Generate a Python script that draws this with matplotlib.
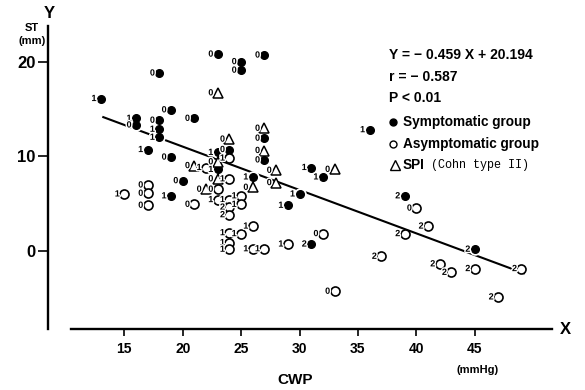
import matplotlib
matplotlib.use('Agg')
import matplotlib.pyplot as plt
import matplotlib.patheffects as pe

plt.rcParams['font.family'] = ['Liberation Sans', 'DejaVu Sans']

# Symptomatic group (filled circles): CWP, ST, digit tag
sym_x = [13, 16, 16, 18, 18, 18, 18, 19, 21, 17, 19, 20, 19, 23, 25, 25, 27, 27, 27,
         24, 23, 23, 26, 31, 32, 30, 29, 31, 36, 39, 45]
sym_y = [16.1, 14.0, 13.3, 18.8, 13.8, 12.85, 12.0, 14.9, 14.0, 10.7, 9.9, 7.4, 5.8,
         20.8, 20.0, 19.1, 20.7, 11.9, 9.6, 10.7, 10.4, 8.6, 7.8, 8.8, 7.8, 6.0, 4.8,
         0.7, 12.8, 5.8, 0.15]
sym_tag = ['1', '1', '0', '0', '0', '1', '1', '0', '0', '1', '0', '0', '1', '0', '0', '0',
           '0', '0', '0', '0', '1', '1', '1', '1', '1', '1', '1', '2', '1', '2', '2']

# Asymptomatic group (open circles)
asy_x = [24, 22, 24, 23, 17, 17, 15, 17, 21, 23, 24, 25, 25, 24, 24, 26, 24, 25, 24, 24,
         26, 27, 29, 32, 33, 40, 41, 39, 37, 42, 43, 45, 49, 47]
asy_y = [9.8, 8.8, 7.6, 6.5, 6.95, 6.07, 6.0, 4.8, 4.9, 5.4, 5.4, 5.8, 4.9, 4.6, 3.8,
         2.6, 1.9, 1.8, 0.85, 0.15, 0.2, 0.2, 0.7, 1.8, -4.3, 4.5, 2.6, 1.8, -0.6, -1.4,
         -2.3, -1.9, -1.9, -4.9]
asy_tag = ['1', '1', '1', '0', '0', '0', '1', '0', '0', '1', '1', '1', '1', '2', '2', '1',
           '1', '1', '1', '1', '1', '1', '1', '0', '0', '0', '2', '2', '2', '2', '2', '2',
           '2', '2']

# SPI (Cohn type II) (open triangles)
spi_x = [23, 27, 24, 27, 23, 21, 23, 28, 33, 26, 28, 22]
spi_y = [16.7, 12.95, 11.8, 10.6, 9.4, 9.0, 7.6, 8.5, 8.6, 6.7, 7.2, 6.5]
spi_tag = ['0'] * 12

# regression line Y = -0.459X + 20.194
slope = -0.459
intercept = 20.194
fit_x = [13.2, 49.2]

xticks = [15, 20, 25, 30, 35, 40, 45]
yticks = [0, 10, 20]

fig = plt.figure(figsize=(5.85, 3.9), dpi=100)
ax = fig.add_axes([48 / 585, 1 - 329.3 / 390, 512 / 585, 303.3 / 390])
ax.set_xlim(8.467, 52.30)
ax.set_ylim(-8.32, 23.78)

for s in ['top', 'right']:
    ax.spines[s].set_visible(False)
ax.spines['left'].set_linewidth(1.7)
ax.spines['bottom'].set_linewidth(1.7)
ax.spines['bottom'].set_bounds(10.4, 51.6)

ax.set_xticks(xticks)
ax.set_yticks(yticks)
ax.tick_params(axis='y', direction='out', length=7, width=1.2, pad=2, labelsize=12)
ax.tick_params(axis='x', direction='out', length=5, width=1.2, pad=4, labelsize=10)
for lab in ax.get_xticklabels() + ax.get_yticklabels():
    lab.set_fontweight('bold')

ax.plot(fit_x, [slope * v + intercept for v in fit_x], color='black', lw=1.5, zorder=1)

# white halos so the line breaks at each mark
ax.plot(sym_x, sym_y, 'o', ms=8, color='white', zorder=2)
ax.plot(sym_x, sym_y, 'o', ms=5.5, color='black', zorder=3)
ax.plot(asy_x, asy_y, 'o', ms=6.5, mfc='white', mec='black', mew=1.2, zorder=3)
ax.plot(spi_x, spi_y, '^', ms=6.5, mfc='white', mec='black', mew=1.1, zorder=3)

halo = [pe.withStroke(linewidth=2, foreground='white')]
for xs, ys, tags in [(sym_x, sym_y, sym_tag), (asy_x, asy_y, asy_tag), (spi_x, spi_y, spi_tag)]:
    for x, y, t in zip(xs, ys, tags):
        ax.annotate(t, (x, y), xytext=(-5, 0), textcoords='offset points', ha='center',
                    va='center', fontsize=6.5, fontweight='bold', zorder=4, path_effects=halo)

# equation and legend block
fig.text(389 / 585, 1 - 55 / 390, 'Y = − 0.459 X + 20.194', fontsize=10, fontweight='bold', va='center')
fig.text(389 / 585, 1 - 77 / 390, 'r = − 0.587', fontsize=10, fontweight='bold', va='center')
fig.text(389 / 585, 1 - 98 / 390, 'P < 0.01', fontsize=10, fontweight='bold', va='center')

fig.lines.append(plt.Line2D([393 / 585], [1 - 121.7 / 390], marker='o', ms=5, color='black',
                            transform=fig.transFigure))
fig.lines.append(plt.Line2D([393 / 585], [1 - 144.3 / 390], marker='o', ms=5, mfc='white',
                            mec='black', mew=1, transform=fig.transFigure))
fig.lines.append(plt.Line2D([395 / 585], [1 - 165 / 390], marker='^', ms=6.5, mfc='white',
                            mec='black', mew=1, transform=fig.transFigure))
fig.text(403 / 585, 1 - 121.7 / 390, 'Symptomatic group', fontsize=9.8, fontweight='bold', va='center')
fig.text(403 / 585, 1 - 144.3 / 390, 'Asymptomatic group', fontsize=9.8, fontweight='bold', va='center')
fig.text(403 / 585, 1 - 165 / 390, 'SPI', fontsize=9.8, fontweight='bold', va='center')
fig.text(431 / 585, 1 - 165 / 390, '(Cohn type II)', fontsize=8.5, family='Liberation Mono',
         va='center')

# axis names
fig.text(49 / 585, 1 - 13 / 390, 'Y', fontsize=12, fontweight='bold', ha='center', va='center')
fig.text(32 / 585, 1 - 28 / 390, 'ST', fontsize=8, fontweight='bold', ha='center', va='center')
fig.text(32 / 585, 1 - 41 / 390, '(mm)', fontsize=8, fontweight='bold', ha='center', va='center')
fig.text(565 / 585, 1 - 330 / 390, 'X', fontsize=12, fontweight='bold', ha='center', va='center')
fig.text(295 / 585, 1 - 380 / 390, 'CWP', fontsize=11, fontweight='bold', ha='center', va='center')
fig.text(478 / 585, 1 - 370 / 390, '(mmHg)', fontsize=8, fontweight='bold', ha='center', va='center')

fig.savefig('out.png', dpi=100)
